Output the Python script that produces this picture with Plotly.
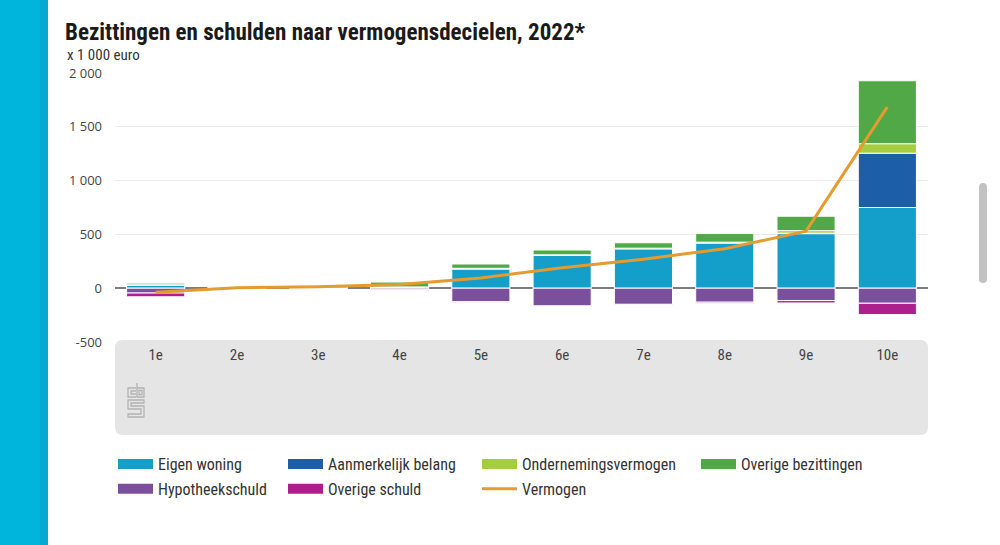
import plotly.graph_objects as go

categories = ["1e", "2e", "3e", "4e", "5e", "6e", "7e", "8e", "9e", "10e"]
eigen_woning = [30, 0, 0, 10, 180, 305, 367, 420, 507, 750]
aanmerkelijk_belang = [0, 0, 0, 0, 0, 0, 0, 3, 5, 505]
ondernemingsvermogen = [2, 0, 1, 2, 5, 5, 5, 5, 23, 88]
overige_bezittingen = [15, 8, 15, 45, 40, 45, 50, 80, 134, 585]
hypotheekschuld = [-45, 0, 0, -15, -125, -165, -150, -130, -115, -140]
overige_schuld = [-35, -3, -2, -5, -5, -5, -5, -10, -22, -105]
vermogen = [-37, 5, 14, 35, 95, 190, 270, 367, 530, 1685]

y_tickvals = [-500, 0, 500, 1000, 1500, 2000]
y_ticktext = ["-500", "0", "500", "1 000", "1 500", "2 000"]

NARROW = "Liberation Sans Narrow, Roboto Condensed, Arial Narrow, sans-serif"

# plot area in pixels
L, R, T, B = 115, 928, 73, 342
W, H = 1000, 545


def px_x(p):
    return (p - L) / (R - L)


def px_y(p):
    return (B - p) / (B - T)


def rrect(x0, y0, x1, y1, r):
    rx = r / (R - L)
    ry = r / (B - T)
    X0, X1 = px_x(x0), px_x(x1)
    Y0, Y1 = px_y(y0), px_y(y1)  # Y0 top (bigger), Y1 bottom
    return (f"M{X0+rx},{Y0} L{X1-rx},{Y0} Q{X1},{Y0} {X1},{Y0-ry} "
            f"L{X1},{Y1+ry} Q{X1},{Y1} {X1-rx},{Y1} L{X0+rx},{Y1} "
            f"Q{X0},{Y1} {X0},{Y1+ry} L{X0},{Y0-ry} Q{X0},{Y0} {X0+rx},{Y0} Z")


def poly(points, ox, oy, closed=False):
    s = "M" + " L".join(f"{px_x(ox+a)},{px_y(oy+b)}" for a, b in points)
    return s + (" Z" if closed else "")


series = [
    ("Eigen woning", eigen_woning, "#139fca", "legend"),
    ("Aanmerkelijk belang", aanmerkelijk_belang, "#1d5ea8", "legend2"),
    ("Ondernemingsvermogen", ondernemingsvermogen, "#a4cd3f", "legend3"),
    ("Overige bezittingen", overige_bezittingen, "#50a846", "legend4"),
    ("Hypotheekschuld", hypotheekschuld, "#7a4f9c", "legend"),
    ("Overige schuld", overige_schuld, "#ac1f8c", "legend2"),
]

fig = go.Figure()
for name, vals, col, lg in series:
    fig.add_trace(go.Bar(
        x=categories, y=vals, name=name, marker=dict(color=col, line=dict(color="white", width=1)),
        showlegend=False, legendgroup=name, legend=lg,
    ))
for name, vals, col, lg in series:
    fig.add_trace(go.Scatter(
        x=[categories[0]], y=[None], mode="lines", name=name, line=dict(color=col, width=16),
        legendgroup=name, legend=lg, hoverinfo="skip",
    ))

fig.add_trace(go.Scatter(
    x=categories, y=vermogen, mode="lines", name="Vermogen",
    line=dict(color="#e49b2f", width=3), legend="legend3", legendgroup="Vermogen",
))

shapes = []
# left cyan strip
shapes.append(dict(type="rect", xref="paper", yref="paper", x0=px_x(0), x1=px_x(48),
                   y0=px_y(0), y1=px_y(H), fillcolor="#00b5dc", line=dict(width=0), layer="below"))
shapes.append(dict(type="rect", xref="paper", yref="paper", x0=px_x(40), x1=px_x(48),
                   y0=px_y(0), y1=px_y(H), fillcolor="#05a8d3", line=dict(width=0), layer="below"))
# gray box under axis
shapes.append(dict(type="path", xref="paper", yref="paper", path=rrect(115, 340, 928, 435, 8),
                   fillcolor="#e5e5e5", line=dict(width=0), layer="below"))
# scrollbar
shapes.append(dict(type="path", xref="paper", yref="paper", path=rrect(979, 183, 987, 283, 4),
                   fillcolor="#c2c2c2", line=dict(width=0), layer="below"))
# cbs logo
lg_col = "#b3b3b3"
ox, oy = 128, 383
logo_paths = [
    ([(8, 5), (0, 5), (0, 14), (8, 14)], False),
    ([(8, 8), (3, 8), (3, 11), (8, 11)], False),
    ([(9, 0), (9, 14), (16, 14), (16, 5), (9, 5)], False),
    ([(11, 7.5), (14, 7.5), (14, 11.5), (11, 11.5)], True),
    ([(16, 17), (0, 17), (0, 26), (13, 26), (13, 31), (0, 31), (0, 34), (16, 34),
      (16, 23), (3, 23), (3, 20), (16, 20)], True),
]
for pts, closed in logo_paths:
    shapes.append(dict(type="path", xref="paper", yref="paper", path=poly(pts, ox, oy, closed),
                       line=dict(color=lg_col, width=1.3), layer="below"))

annotations = [
    dict(text="<b>Bezittingen en schulden naar vermogensdecielen, 2022*</b>", xref="paper", yref="paper",
         x=px_x(64), y=px_y(33), xanchor="left", yanchor="middle", showarrow=False,
         font=dict(family=NARROW, size=23, color="#1a1a1a"), borderpad=0),
    dict(text="x 1 000 euro", xref="paper", yref="paper",
         x=px_x(66), y=px_y(55), xanchor="left", yanchor="middle", showarrow=False,
         font=dict(family=NARROW, size=15, color="#333333"), borderpad=0),
]

leg_common = dict(xanchor="left", yanchor="top",
                  orientation="v", traceorder="grouped", tracegroupgap=1, itemwidth=35,
                  font=dict(family=NARROW, size=16, color="#333333"), bgcolor="rgba(0,0,0,0)",
                  itemclick=False, itemdoubleclick=False)
ytop = px_y(447)

fig.update_layout(
    width=W, height=H,
    margin=dict(l=L, r=W - R, t=T, b=H - B, autoexpand=False),
    paper_bgcolor="white", plot_bgcolor="white",
    barmode="relative", bargap=0.285,
    shapes=shapes, annotations=annotations,
    legend=dict(x=px_x(113), y=ytop, **leg_common),
    legend2=dict(x=px_x(283), y=ytop, **leg_common),
    legend3=dict(x=px_x(477), y=ytop, **leg_common),
    legend4=dict(x=px_x(696), y=ytop, **leg_common),
    xaxis=dict(type="category", categoryorder="array", categoryarray=categories,
               showgrid=False, showline=False, zeroline=False,
               ticks="", ticklabelstandoff=2,
               tickfont=dict(family=NARROW, size=15, color="#444444")),
    yaxis=dict(range=[-500, 2000], tickvals=y_tickvals, ticktext=y_ticktext,
               showgrid=True, gridcolor="#ebebeb", gridwidth=1,
               zeroline=True, zerolinecolor="#7d7d7d", zerolinewidth=2,
               showline=False, ticks="", ticklabelstandoff=12,
               tickfont=dict(family="Open Sans, sans-serif", size=13, color="#444444")),
    hovermode="x",
)

fig.write_html("out.html", config={"displayModeBar": False},
               post_script="document.body.style.margin='0';document.body.style.overflow='hidden';")
